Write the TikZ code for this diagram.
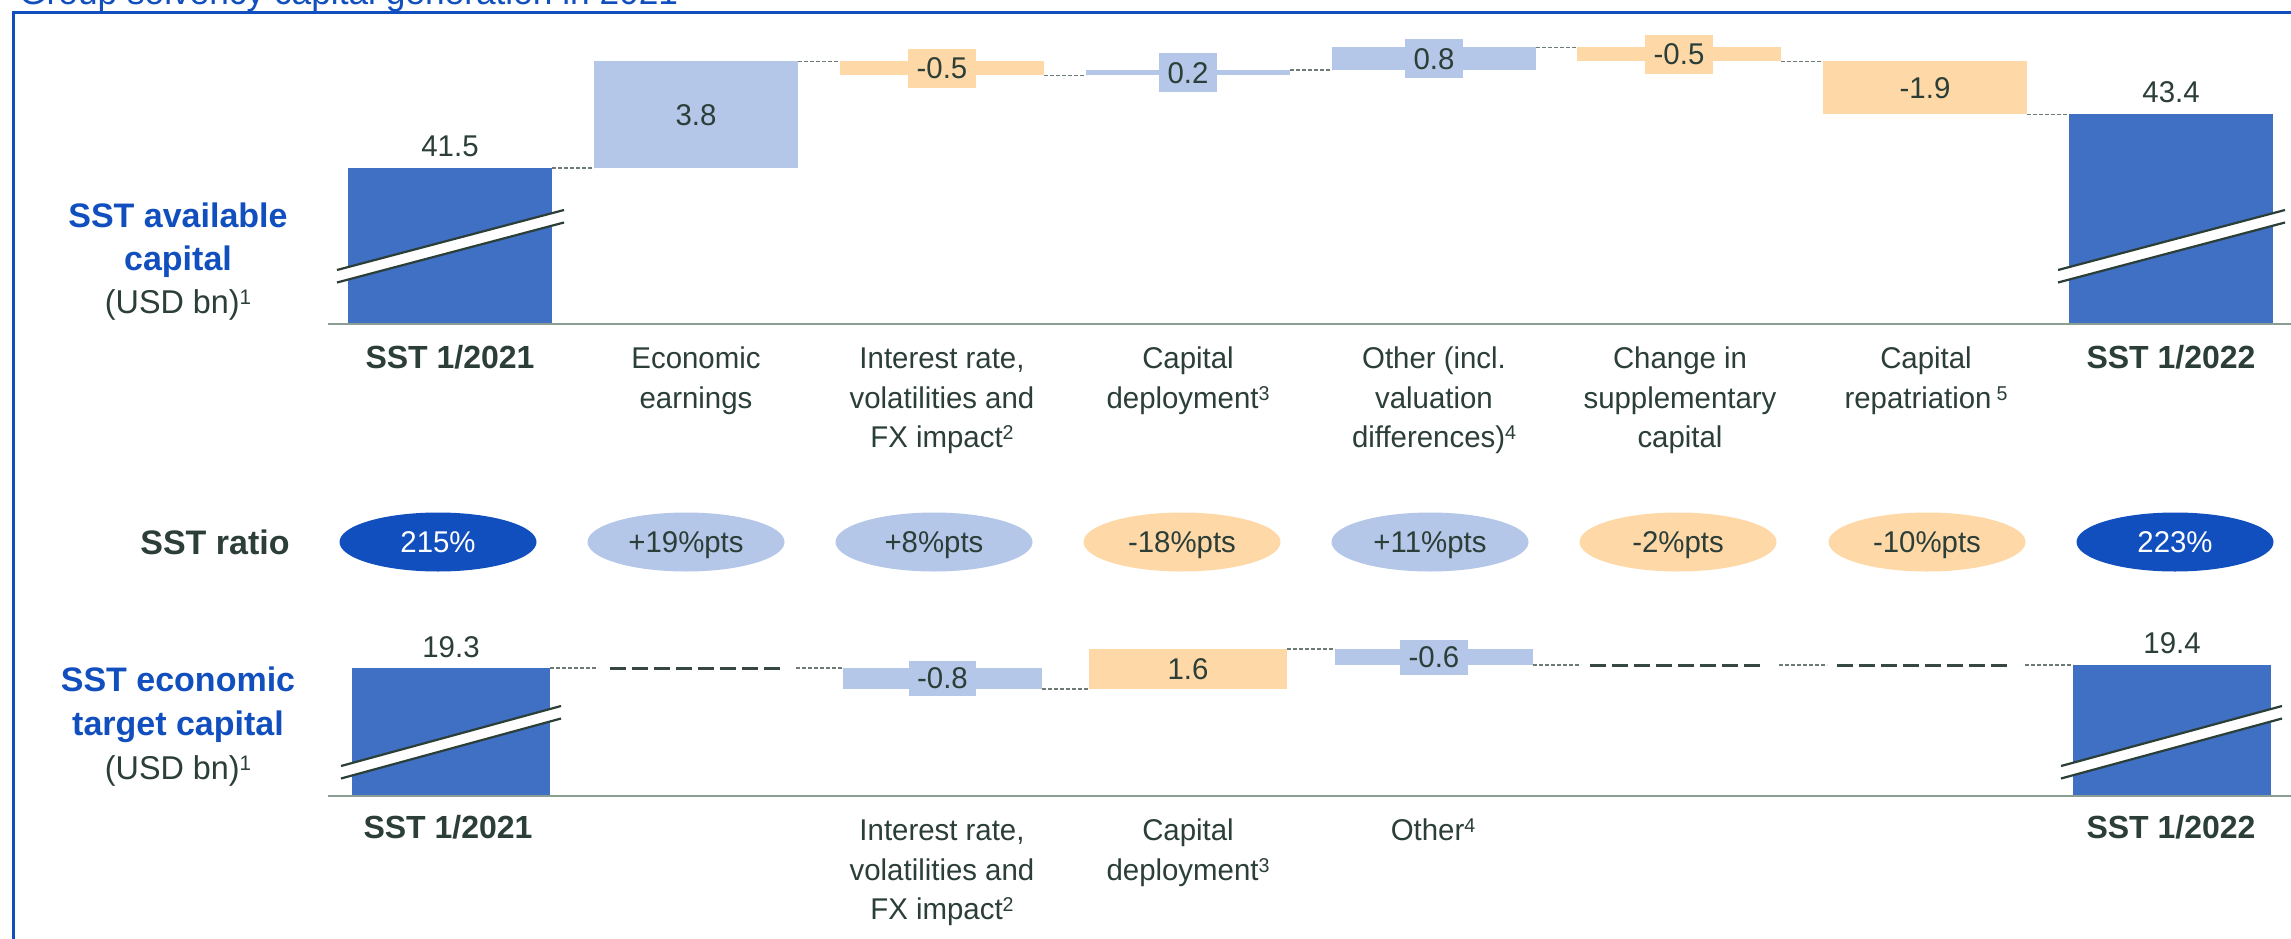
\documentclass[tikz,border=0pt]{standalone}
\usepackage{fontspec}
\setmainfont{Liberation Sans}
\newfontfamily\lt[FakeStretch=0.98]{Liberation Sans}
\usetikzlibrary{shapes.geometric}
\definecolor{frameblue}{RGB}{17,79,190}
\definecolor{barblue}{RGB}{64,112,196}
\definecolor{lightblue}{RGB}{180,199,233}
\definecolor{lightorange}{RGB}{255,216,168}
\definecolor{txt}{RGB}{43,62,55}
\definecolor{axisc}{RGB}{138,158,148}
\definecolor{dotc}{RGB}{110,122,116}
\definecolor{dashc}{RGB}{55,72,64}
\newcommand\sps[1]{\raisebox{8pt}{\fontsize{20}{20}\selectfont #1}}
\newcommand\spsb[1]{\raisebox{9pt}{\fontsize{21}{21}\selectfont #1}}
\newcommand\fr{\rule{0pt}{28pt}}
\begin{document}
\begin{tikzpicture}[x=1pt,y=-1pt,
  bar/.style={rectangle, inner sep=0pt, outer sep=0pt, draw=none, anchor=north west},
  val/.style={font=\lt\fontsize{30}{34}\selectfont, text=txt, inner sep=0pt},
  valbox/.style={val, inner xsep=8.5pt, inner ysep=0pt, minimum height=39pt},
  cat/.style={font=\lt\fontsize{30}{39.5}\selectfont, text=txt, align=center, anchor=north, inner sep=0pt},
  catb/.style={font=\bfseries\fontsize{32}{38}\selectfont, text=txt, anchor=base, inner sep=0pt},
  sideb/.style={font=\bfseries\fontsize{34}{40}\selectfont, text=frameblue, anchor=base, inner sep=0pt},
  sider/.style={font=\lt\fontsize{33}{40}\selectfont, text=txt, anchor=base, inner sep=0pt},
  ratio/.style={ellipse, minimum width=197pt, minimum height=59pt, inner sep=0pt, font=\lt\fontsize{30}{34}\selectfont, text height=21pt, text depth=0pt},
  dotl/.style={draw=dotc, line width=1.5pt, dash pattern=on 4pt off 2pt},
  dashl/.style={draw=dashc, line width=3pt, dash pattern=on 16pt off 6pt},
  axisl/.style={draw=axisc, line width=2.5pt},
  brk/.style={draw=txt, line width=2.2pt}
]
\useasboundingbox (0,0) rectangle (2291,939);
\fill[white] (0,0) rectangle (2291,939);

% title (cut off) and frame
\node[font=\lt\fontsize{36}{40}\selectfont, text=frameblue, anchor=base west, inner sep=0pt] (title) at (19,5) {Group solvency capital generation in 2021};
\draw[frameblue, line width=3pt, line join=miter] (13,939) -- (13,12.5) -- (2291,12.5);

% ===== top chart: SST available capital =====
\node[bar, fill=barblue, minimum width=204pt, minimum height=155pt] (b1) at (348,168) {};
\node[bar, fill=lightblue, minimum width=204pt, minimum height=106.5pt] (b2) at (594,61.5) {};
\node[bar, fill=lightorange, minimum width=204pt, minimum height=14pt] (b3) at (840,61.5) {};
\node[bar, fill=lightblue, minimum width=204pt, minimum height=5.5pt] (b4) at (1086,70) {};
\node[bar, fill=lightblue, minimum width=204pt, minimum height=22.5pt] (b5) at (1332,47.5) {};
\node[bar, fill=lightorange, minimum width=204pt, minimum height=14pt] (b6) at (1577,47.5) {};
\node[bar, fill=lightorange, minimum width=204pt, minimum height=53pt] (b7) at (1823,61.5) {};
\node[bar, fill=barblue, minimum width=204pt, minimum height=208.5pt] (b8) at (2069,114.5) {};

\draw[dotl] (b1.north east) -- (b2.south west);
\draw[dotl] (b2.north east) -- (b3.north west);
\draw[dotl] (b3.south east) -- (b4.south west);
\draw[dotl] (b4.north east) -- (b5.south west);
\draw[dotl] (b5.north east) -- (b6.north west);
\draw[dotl] (b6.south east) -- (b7.north west);
\draw[dotl] (b7.south east) -- (b8.north west);

\coordinate (axa) at (328,324);
\coordinate (axb) at (2291,324);
\draw[axisl] (axa) -- (axb);

\node[val] (v1) at ([yshift=22pt]b1.north) {41.5};
\node[val] (v2) at (b2.center) {3.8};
\node[valbox, fill=lightorange] (v3) at (b3.center) {-0.5};
\node[valbox, fill=lightblue] (v4) at (b4.center) {0.2};
\node[valbox, fill=lightblue] (v5) at (b5.center) {0.8};
\node[valbox, fill=lightorange] (v6) at (b6.center) {-0.5};
\node[val] (v7) at (b7.center) {-1.9};
\node[val] (v8) at ([yshift=22pt]b8.north) {43.4};

% ===== bottom chart: SST economic target capital =====
\node[bar, fill=barblue, minimum width=198pt, minimum height=127pt] (c1) at (352,668) {};
\node[bar, fill=lightblue, minimum width=199pt, minimum height=21pt] (c3) at (843,668) {};
\node[bar, fill=lightorange, minimum width=198pt, minimum height=40pt] (c4) at (1089,649) {};
\node[bar, fill=lightblue, minimum width=198pt, minimum height=16pt] (c5) at (1335,649) {};
\node[bar, fill=barblue, minimum width=198pt, minimum height=130pt] (c8) at (2073,665) {};

\coordinate (s2l) at (598,668);
\coordinate (s2a) at (610,668);
\coordinate (s2b) at (781,668);
\coordinate (s2r) at (796,668);
\coordinate (s6l) at (1581,665);
\coordinate (s6a) at (1590,665);
\coordinate (s6b) at (1760,665);
\coordinate (s6r) at (1779,665);
\coordinate (s7l) at (1827,665);
\coordinate (s7a) at (1837,665);
\coordinate (s7b) at (2008,665);
\coordinate (s7r) at (2025,665);

\draw[dotl] (c1.north east) -- (s2l);
\draw[dashl] (s2a) -- (s2b);
\draw[dotl] (s2r) -- (c3.north west);
\draw[dotl] (c3.south east) -- (c4.south west);
\draw[dotl] (c4.north east) -- (c5.north west);
\draw[dotl] (c5.south east) -- (s6l);
\draw[dashl] (s6a) -- (s6b);
\draw[dotl] (s6r) -- (s7l);
\draw[dashl] (s7a) -- (s7b);
\draw[dotl] (s7r) -- (c8.north west);

\coordinate (bxa) at (328,796);
\coordinate (bxb) at (2291,796);
\draw[axisl] (bxa) -- (bxb);

\node[val] (w1) at ([yshift=21pt]c1.north) {19.3};
\node[valbox, fill=lightblue, minimum height=35pt] (w3) at (c3.center) {-0.8};
\node[val] (w4) at (c4.center) {1.6};
\node[valbox, fill=lightblue, minimum height=35pt] (w5) at (c5.center) {-0.6};
\node[val] (w8) at ([yshift=22pt]c8.north) {19.4};

% ===== break marks =====
\foreach \xa/\xb/\ya in {337/564/270, 2058/2285/270, 341/561/766, 2061/2282/766} {
  \fill[white] (\xa,\ya) -- (\xb,\ya-60) -- (\xb,\ya-47.5) -- (\xa,\ya+12.5) -- cycle;
  \draw[brk] (\xa,\ya) -- (\xb,\ya-60);
  \draw[brk] (\xa,\ya+12.5) -- (\xb,\ya-47.5);
}

% ===== side labels =====
\node[sideb] (la1) at (178,227) {SST available};
\node[sideb] (la2) at (178,270) {capital};
\node[sider] (la3) at (178,313) {(USD bn)\spsb{1}};
\node[sideb] (lt1) at (178,691) {SST economic};
\node[sideb] (lt2) at (178,735) {target capital};
\node[sider] (lt3) at (178,779) {(USD bn)\spsb{1}};
\node[catb, font=\bfseries\fontsize{34}{40}\selectfont] (lr) at (215,554) {SST ratio};

% ===== top category labels =====
\node[catb] (k1) at (450,368.5) {SST 1/2021};
\node[cat] (k2) at (696,340.5) {\fr Economic\\earnings};
\node[cat] (k3) at (942,340.5) {\fr Interest rate,\\volatilities and\\FX impact\sps{2}};
\node[cat] (k4) at (1188,340.5) {\fr Capital\\deployment\sps{3}};
\node[cat] (k5) at (1434,340.5) {\fr Other (incl.\\valuation\\differences)\sps{4}};
\node[cat] (k6) at (1680,340.5) {\fr Change in\\supplementary\\capital};
\node[cat] (k7) at (1926,340.5) {\fr Capital\\repatriation\,\sps{5}};
\node[catb] (k8) at (2171,368.5) {SST 1/2022};

% ===== SST ratio ellipses =====
\node[ratio, fill=frameblue, text=white] (r1) at (438,542) {215\%};
\node[ratio, fill=lightblue, text=txt] (r2) at (686,542) {+19\%pts};
\node[ratio, fill=lightblue, text=txt] (r3) at (934,542) {+8\%pts};
\node[ratio, fill=lightorange, text=txt] (r4) at (1182,542) {-18\%pts};
\node[ratio, fill=lightblue, text=txt] (r5) at (1430,542) {+11\%pts};
\node[ratio, fill=lightorange, text=txt] (r6) at (1678,542) {-2\%pts};
\node[ratio, fill=lightorange, text=txt] (r7) at (1927,542) {-10\%pts};
\node[ratio, fill=frameblue, text=white] (r8) at (2175,542) {223\%};

% ===== bottom category labels =====
\node[catb] (m1) at (448,838.5) {SST 1/2021};
\node[cat] (m3) at (942,812.5) {\fr Interest rate,\\volatilities and\\FX impact\sps{2}};
\node[cat] (m4) at (1188,812.5) {\fr Capital\\deployment\sps{3}};
\node[cat] (m5) at (1433,812.5) {\fr Other\sps{4}};
\node[catb] (m8) at (2171,838.5) {SST 1/2022};
\end{tikzpicture}
\end{document}
